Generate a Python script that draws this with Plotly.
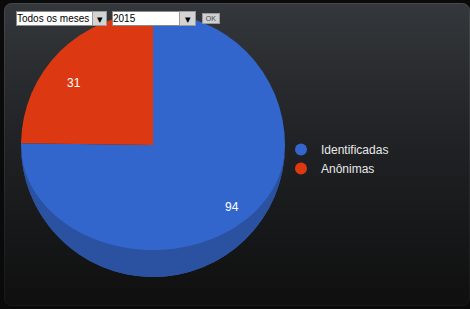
import base64
import math
import plotly.graph_objects as go

# ---- data ----
categories = ["Identificadas", "Anônimas"]
values = [94, 31]
colors = ["#3366cc", "#dc3912"]
side_color = "#2a52a0"
month_label = "Todos os meses"
year_label = "2015"
button_label = "OK"

W, H = 470, 309

# background panel (gradient, rounded) as inline SVG image
svg = f'''<svg xmlns="http://www.w3.org/2000/svg" width="{W}" height="{H}" viewBox="0 0 {W} {H}">
<defs><linearGradient id="g" x1="0" y1="0" x2="0" y2="1">
<stop offset="0" stop-color="#34373b"/>
<stop offset="0.45" stop-color="#202225"/>
<stop offset="1" stop-color="#0f0f0f"/>
</linearGradient>
<linearGradient id="s" x1="0" y1="0" x2="0" y2="1">
<stop offset="0" stop-color="#45484c"/>
<stop offset="1" stop-color="#171717"/>
</linearGradient></defs>
<rect x="0" y="0" width="{W}" height="{H}" fill="#0a0a0a"/>
<rect x="4.5" y="3.5" width="{W-5}" height="{H-7}" rx="7" ry="7" fill="url(#g)" stroke="url(#s)" stroke-width="1"/>
</svg>'''
src = "data:image/svg+xml;base64," + base64.b64encode(svg.encode()).decode()

fig = go.Figure()

# pie geometry (pixels, y measured from top)
cx, cy, r = 153, 145, 132
top_ry = 105  # bottom of the tilted top face
label_fx, label_fy = 0.85, 0.655

fig.add_trace(go.Pie(
    labels=categories,
    values=values,
    sort=False,
    direction="clockwise",
    rotation=0,
    marker=dict(colors=colors, line=dict(width=0)),
    textinfo="none",
    showlegend=False,
    domain=dict(x=[(cx - r) / W, (cx + r) / W], y=[1 - (cy + r) / H, 1 - (cy - r) / H]),
    hoverinfo="label+value+percent",
))

# legend entries with round markers
for name, col in zip(categories, colors):
    fig.add_trace(go.Scatter(
        x=[None], y=[None], mode="markers", name=name,
        marker=dict(symbol="circle", size=12, color=col),
        showlegend=True,
    ))

# 3D side band of the pie (bottom crescent)
n = 80
pts = []
for i in range(n + 1):
    t = math.pi * i / n
    pts.append((cx + r * math.cos(t), H - (cy + r * math.sin(t))))
for i in range(n + 1):
    t = math.pi - math.pi * i / n
    pts.append((cx + r * math.cos(t), H - (cy + top_ry * math.sin(t))))
path = "M " + " L ".join(f"{x:.2f},{y:.2f}" for x, y in pts) + " Z"
shapes = [dict(type="path", path=path, xref="x", yref="y", fillcolor=side_color,
               line=dict(width=0), layer="above")]

# slice value labels placed along each slice's mid angle (tilted projection)
annotations = []
total = sum(values)
cum = 0
for v in values:
    mid = (cum + v / 2) / total * 2 * math.pi
    cum += v
    lx = cx + label_fx * r * math.sin(mid)
    ly = cy - label_fy * r * math.cos(mid)
    annotations.append(dict(text=str(v), x=lx, y=H - ly, xref="x", yref="y", showarrow=False,
                            font=dict(family="Arial", size=12, color="#ffffff")))

controls = [
    dict(text=month_label, x=16, y=H - 18, width=75, height=13, align="left", xanchor="left",
         bgcolor="#ffffff", bordercolor="#8a8a8a", font=dict(family="Arial", size=10, color="#000000")),
    dict(text="▾", x=99.5, y=H - 18, width=13, height=13, align="center", xanchor="center",
         bgcolor="#d4d4d4", bordercolor="#9a9a9a", font=dict(family="Arial", size=11, color="#000000")),
    dict(text=year_label, x=112, y=H - 18, width=66, height=13, align="left", xanchor="left",
         bgcolor="#ffffff", bordercolor="#8a8a8a", font=dict(family="Arial", size=10, color="#000000")),
    dict(text="▾", x=187.5, y=H - 18, width=15, height=13, align="center", xanchor="center",
         bgcolor="#d4d4d4", bordercolor="#9a9a9a", font=dict(family="Arial", size=11, color="#000000")),
    dict(text=button_label, x=211, y=H - 18.5, width=16, height=9, align="center", xanchor="center",
         bgcolor="#d0d0d0", bordercolor="#9a9a9a", font=dict(family="Arial", size=7, color="#444444")),
]
for a in controls:
    a.update(xref="x", yref="y", showarrow=False, yanchor="middle", borderwidth=1, borderpad=0)
annotations += controls

fig.update_layout(
    width=W, height=H,
    margin=dict(l=0, r=0, t=0, b=0),
    paper_bgcolor="#0a0a0a",
    plot_bgcolor="rgba(0,0,0,0)",
    images=[dict(source=src, xref="paper", yref="paper", x=0, y=1, sizex=1, sizey=1,
                 sizing="stretch", layer="below", xanchor="left", yanchor="top")],
    xaxis=dict(range=[0, W], visible=False, fixedrange=True),
    yaxis=dict(range=[0, H], visible=False, fixedrange=True),
    legend=dict(x=281 / W, y=1 - 135 / H, xanchor="left", yanchor="top",
                bgcolor="rgba(0,0,0,0)", font=dict(family="Arial", size=12, color="#e8e8e8"),
                itemclick=False, itemdoubleclick=False, tracegroupgap=0),
    annotations=annotations,
    shapes=shapes,
    showlegend=True,
)

fig.write_html("out.html", config={"displayModeBar": False},
               post_script="document.body.style.margin='0';document.body.style.overflow='hidden';")
